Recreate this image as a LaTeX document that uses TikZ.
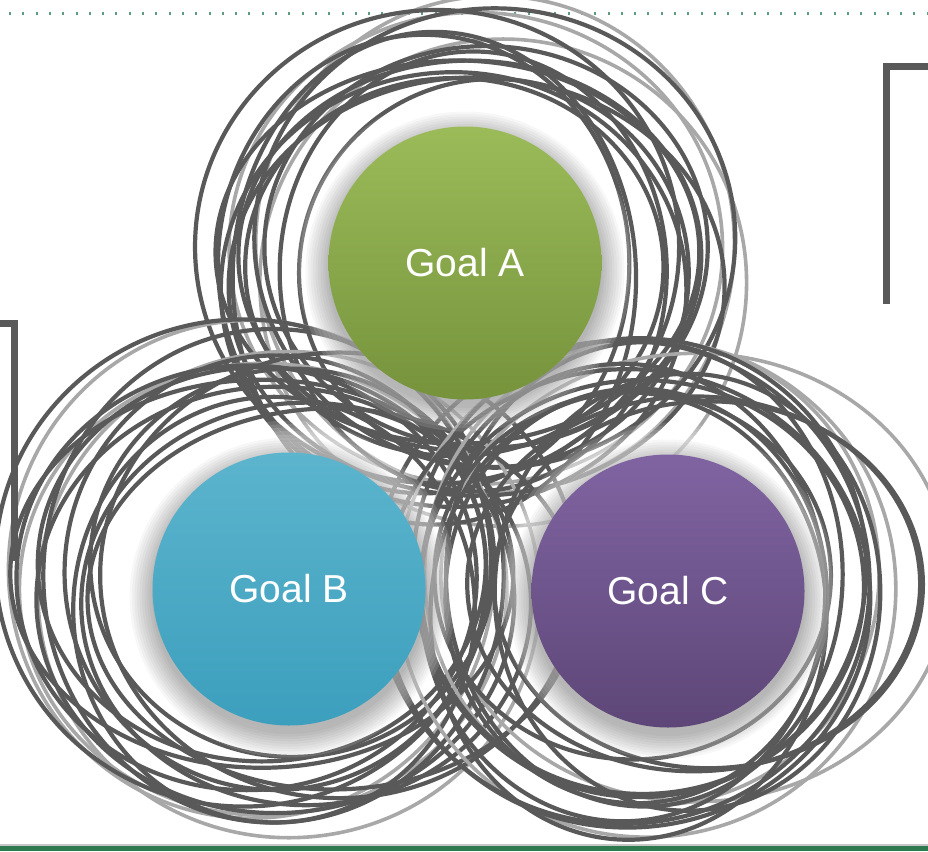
\documentclass[tikz,border=0pt]{standalone}
\usepackage{fontspec}
\setmainfont{Liberation Sans}

\definecolor{sketchgray}{HTML}{595959}
\definecolor{faintgray}{HTML}{A8A8A8}
\definecolor{dotgreen}{HTML}{5E9E80}
\definecolor{bandgreen}{HTML}{2E7A4E}
\definecolor{greenTop}{HTML}{9BBB59}
\definecolor{greenBot}{HTML}{76933C}
\definecolor{blueTop}{HTML}{5CB4CD}
\definecolor{blueBot}{HTML}{3C9FBD}
\definecolor{purpleTop}{HTML}{8064A2}
\definecolor{purpleBot}{HTML}{5D4677}

\begin{document}
\begin{tikzpicture}[x=1pt,y=-1pt,
    goal/.style={circle, minimum size=273pt, inner sep=0pt, text=white,
                 font=\fontsize{39}{40}\selectfont},
    sketch/.style={sketchgray, line width=4.2pt},
    faint/.style={faintgray, line width=3.6pt},
    bracket/.style={sketchgray, line width=7pt}]

\useasboundingbox (0,0) rectangle (928,851);
\clip (0,0) rectangle (928,851);

\coordinate (A) at (465,263);
\coordinate (B) at (289,589);
\coordinate (C) at (668,591);

% top dotted rule
\draw[dotgreen, line width=3pt, dash pattern=on 2pt off 11.3pt] (9,14) -- (928,14);

% scribbled rings
\pgfmathsetseed{42}
\foreach \v in {A,B,C}
{
    \foreach \i in {1,...,3}
    {
        \pgfmathsetmacro{\dx}{rand*45}
        \pgfmathsetmacro{\dy}{rand*25}
        \pgfmathsetmacro{\rx}{245+rand*20}
        \pgfmathsetmacro{\ry}{235+rand*15}
        \draw[faint] (\v) ++(\dx,\dy) ellipse ({\rx pt} and {\ry pt});
    }
    \foreach \i in {1,...,12}
    {
        \pgfmathsetmacro{\dx}{rand*50}
        \pgfmathsetmacro{\dy}{rand*28}
        \pgfmathsetmacro{\rx}{225+rand*35}
        \pgfmathsetmacro{\ry}{215+rand*32}
        \draw[sketch] (\v) ++(\dx,\dy) ellipse ({\rx pt} and {\ry pt});
    }
}

% glow and shadow
\foreach \v in {A,B,C}
{
    \foreach \k in {0,...,9}
        \fill[white, opacity=0.13] (\v) circle ({137+3.5*\k pt});
    \foreach \k in {0,...,9}
        \fill[black, opacity=0.03] (\v) ++(0,8) circle ({137+2.5*\k pt});
}

\node[goal, top color=greenTop, bottom color=greenBot] (goalA) at (A) {Goal A};
\node[goal, top color=blueTop, bottom color=blueBot] (goalB) at (B) {Goal B};
\node[goal, top color=purpleTop, bottom color=purpleBot] (goalC) at (C) {Goal C};

% side brackets
\draw[bracket] (0,323) -- (14,323) -- (14,561);
\draw[bracket] (928,66) -- (886,66) -- (886,304);

% bottom band
\draw[gray!45, line width=1.5pt] (0,845) -- (928,845);
\fill[bandgreen] (0,846) rectangle (928,851);

\end{tikzpicture}
\end{document}
